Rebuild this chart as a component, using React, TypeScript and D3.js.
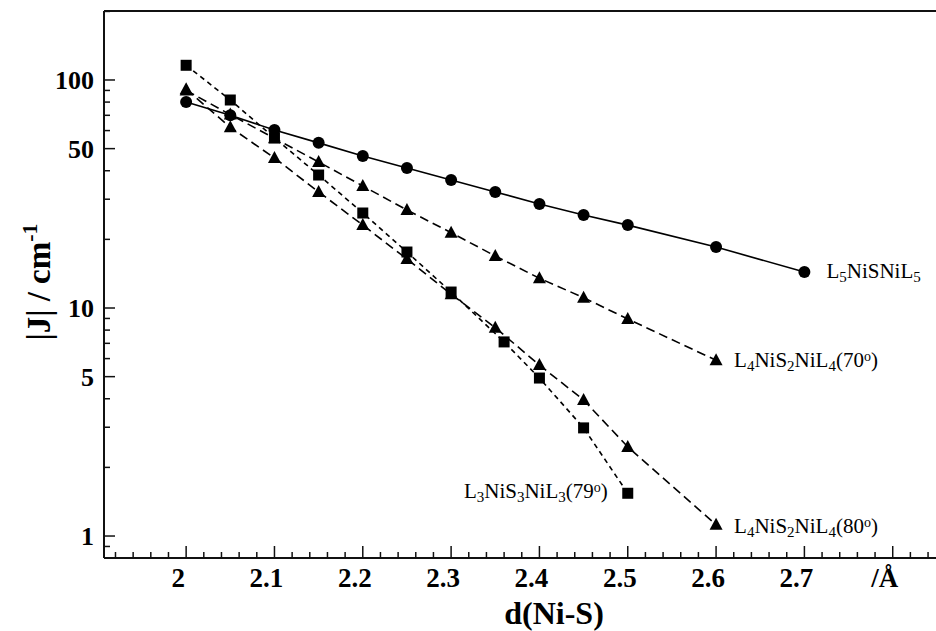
import React, { useEffect, useRef } from "react";
import * as d3 from "d3";

// d(Ni-S) in Angstrom, |J| in cm-1
const xL5 = [2.0, 2.05, 2.1, 2.15, 2.2, 2.25, 2.3, 2.35, 2.4, 2.45, 2.5, 2.6, 2.7];
const jL5 = [80, 70, 60.3, 53, 46.4, 41.1, 36.4, 32.3, 28.6, 25.6, 23.1, 18.5, 14.4];

const xS2a = [2.0, 2.05, 2.1, 2.15, 2.2, 2.25, 2.3, 2.35, 2.4, 2.45, 2.5, 2.6];
const jS2a = [90, 70.5, 55.5, 43.7, 34.3, 26.9, 21.4, 16.9, 13.5, 11.1, 8.95, 5.9];

const xS2b = [2.0, 2.05, 2.1, 2.15, 2.2, 2.25, 2.3, 2.35, 2.4, 2.45, 2.5, 2.6];
const jS2b = [91, 62, 45.5, 32.3, 23.1, 16.4, 11.5, 8.2, 5.62, 3.95, 2.46, 1.12];

const xS3 = [2.0, 2.05, 2.1, 2.15, 2.2, 2.25, 2.3, 2.36, 2.4, 2.45, 2.5];
const jS3 = [116, 81.7, 55.7, 38.3, 26.1, 17.6, 11.75, 7.1, 4.93, 2.98, 1.54];

const xTicks = [2.0, 2.1, 2.2, 2.3, 2.4, 2.5, 2.6, 2.7, 2.8];
const xTickLabels = ["2", "2.1", "2.2", "2.3", "2.4", "2.5", "2.6", "2.7", "/Å"];
const yTicks = [1, 5, 10, 50, 100];

type Part = { t: string; s?: "sub" | "sup" };
const labelL5: Part[] = [{ t: "L" }, { t: "5", s: "sub" }, { t: "NiSNiL" }, { t: "5", s: "sub" }];
const labelS2a: Part[] = [{ t: "L" }, { t: "4", s: "sub" }, { t: "NiS" }, { t: "2", s: "sub" }, { t: "NiL" }, { t: "4", s: "sub" }, { t: "(70" }, { t: "o", s: "sup" }, { t: ")" }];
const labelS2b: Part[] = [{ t: "L" }, { t: "4", s: "sub" }, { t: "NiS" }, { t: "2", s: "sub" }, { t: "NiL" }, { t: "4", s: "sub" }, { t: "(80" }, { t: "o", s: "sup" }, { t: ")" }];
const labelS3: Part[] = [{ t: "L" }, { t: "3", s: "sub" }, { t: "NiS" }, { t: "3", s: "sub" }, { t: "NiL" }, { t: "3", s: "sub" }, { t: "(79" }, { t: "o", s: "sup" }, { t: ")" }];

const W = 936;
const H = 631;
const FONT = "'Liberation Serif', 'Times New Roman', serif";

export default function App() {
  const ref = useRef<SVGSVGElement>(null);

  useEffect(() => {
    const svg = d3.select(ref.current);
    svg.selectAll("*").remove();

    const left = 104, top = 11, bottom = 558, right = W;

    const x = d3.scaleLinear().domain([1.907, 2.849]).range([left, right]);
    const y = d3.scaleLog().domain([0.801, 200.7]).range([bottom, top]);

    // frame: left, bottom, top lines (no right side)
    const axisColor = "#111";
    svg.append("line").attr("x1", left).attr("x2", left).attr("y1", top).attr("y2", bottom)
      .attr("stroke", axisColor).attr("stroke-width", 2);
    svg.append("line").attr("x1", left).attr("x2", right).attr("y1", bottom).attr("y2", bottom)
      .attr("stroke", axisColor).attr("stroke-width", 2);
    svg.append("line").attr("x1", left).attr("x2", right).attr("y1", top).attr("y2", top)
      .attr("stroke", axisColor).attr("stroke-width", 2);

    // x ticks (inward), minor every 0.02
    const xMinor = d3.range(1.92, 2.85, 0.02).map(v => +v.toFixed(2));
    svg.append("g").selectAll("line").data(xMinor).join("line")
      .attr("x1", d => x(d)).attr("x2", d => x(d))
      .attr("y1", bottom).attr("y2", d => (Math.round(d * 100) % 10 === 0 ? bottom - 12 : bottom - 6))
      .attr("stroke", axisColor).attr("stroke-width", 1.5);

    svg.append("g").selectAll("text").data(xTicks).join("text")
      .attr("x", d => x(d) - 8).attr("y", 587)
      .attr("text-anchor", "middle")
      .style("font-family", FONT).style("font-weight", "bold").style("font-size", "27px")
      .text((d, i) => xTickLabels[i]);

    // y ticks (inward), log minors
    const yMinor: number[] = [0.9];
    [1, 10, 100].forEach(dec => d3.range(1, 10).forEach(m => { if (m * dec <= 200) yMinor.push(m * dec); }));
    yMinor.push(200);
    svg.append("g").selectAll("line").data(yMinor).join("line")
      .attr("x1", left).attr("x2", d => (yTicks.includes(d) ? left + 11 : left + 6))
      .attr("y1", d => y(d)).attr("y2", d => y(d))
      .attr("stroke", axisColor).attr("stroke-width", 1.5);

    svg.append("g").selectAll("text").data(yTicks).join("text")
      .attr("x", 94).attr("y", d => y(d)).attr("dy", "0.35em")
      .attr("text-anchor", "end")
      .style("font-family", FONT).style("font-weight", "bold").style("font-size", "26px")
      .text(d => String(d));

    // axis titles
    svg.append("text")
      .attr("x", 554).attr("y", 624).attr("text-anchor", "middle")
      .style("font-family", FONT).style("font-weight", "bold").style("font-size", "32px")
      .text("d(Ni-S)");

    const yt = svg.append("text")
      .attr("transform", "translate(50, 282) rotate(-90)")
      .attr("text-anchor", "middle")
      .style("font-family", FONT).style("font-weight", "bold").style("font-size", "33px");
    yt.append("tspan").text("|J| / cm");
    yt.append("tspan").attr("dy", -13).style("font-size", "22px").text("-1");

    // series
    const series = [
      { xs: xL5, js: jL5, dash: null as string | null, marker: "circle", label: labelL5, lx: 22, ly: 6, anchor: "start" },
      { xs: xS2a, js: jS2a, dash: "9,5", marker: "triangle", label: labelS2a, lx: 18, ly: 7, anchor: "start" },
      { xs: xS2b, js: jS2b, dash: "9,5", marker: "triangle", label: labelS2b, lx: 18, ly: 8, anchor: "start" },
      { xs: xS3, js: jS3, dash: "5,4", marker: "square", label: labelS3, lx: -20, ly: 5, anchor: "end" },
    ];

    const line = d3.line<[number, number]>().x(d => x(d[0])).y(d => y(d[1]));

    series.forEach(s => {
      const pts: [number, number][] = s.xs.map((v, i) => [v, s.js[i]]);
      svg.append("path").datum(pts)
        .attr("fill", "none").attr("stroke", "#000").attr("stroke-width", 1.6)
        .attr("stroke-dasharray", s.dash)
        .attr("d", line);
    });

    series.forEach(s => {
      const pts: [number, number][] = s.xs.map((v, i) => [v, s.js[i]]);
      const g = svg.append("g");
      if (s.marker === "circle") {
        g.selectAll("circle").data(pts).join("circle")
          .attr("cx", d => x(d[0])).attr("cy", d => y(d[1])).attr("r", 6).attr("fill", "#000");
      } else if (s.marker === "square") {
        g.selectAll("rect").data(pts).join("rect")
          .attr("x", d => x(d[0]) - 5.5).attr("y", d => y(d[1]) - 5.5)
          .attr("width", 11).attr("height", 11).attr("fill", "#000");
      } else {
        g.selectAll("path").data(pts).join("path")
          .attr("transform", d => `translate(${x(d[0])},${y(d[1])})`)
          .attr("d", "M0,-7L6.5,5L-6.5,5Z").attr("fill", "#000");
      }

      const last = pts[pts.length - 1];
      const t = svg.append("text")
        .attr("x", x(last[0]) + s.lx).attr("y", y(last[1]) + s.ly)
        .attr("text-anchor", s.anchor)
        .style("font-family", FONT).style("font-size", "21px");
      s.label.forEach(p => {
        const ts = t.append("tspan").text(p.t);
        if (p.s === "sub") ts.attr("baseline-shift", "-25%").style("font-size", "15px");
        if (p.s === "sup") ts.attr("baseline-shift", "45%").style("font-size", "14px");
      });
    });
  }, []);

  return (
    <svg ref={ref} width={W} height={H}
      style={{ display: "block", background: "#fff", position: "absolute", left: 0, top: 0 }} />
  );
}
